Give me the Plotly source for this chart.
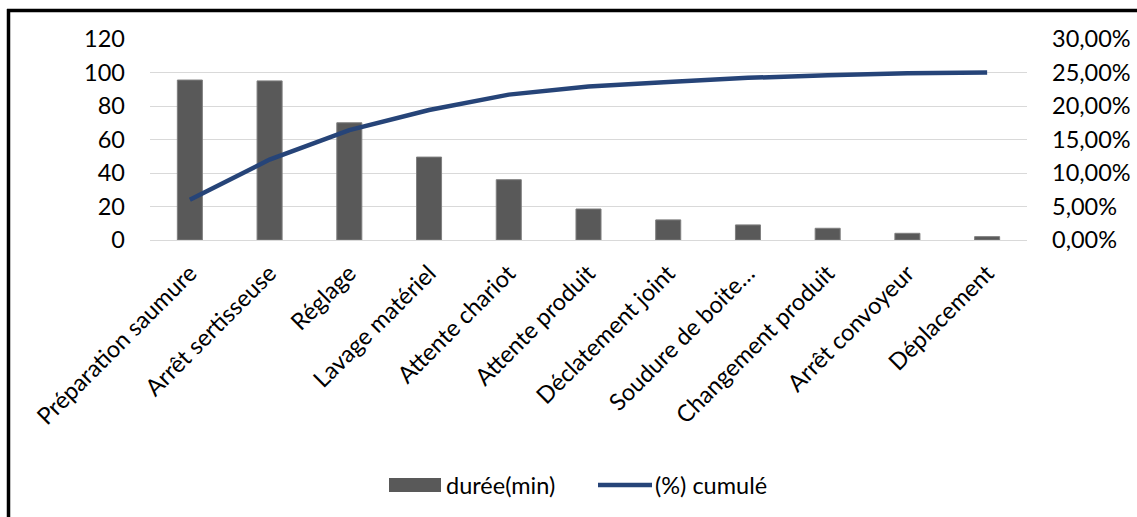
import plotly.graph_objects as go

# Pareto data: downtime per cause and cumulative share
categories = [
    "Préparation saumure", "Arrêt sertisseuse", "Réglage", "Lavage matériel",
    "Attente chariot", "Attente produit", "Déclatement joint", "Soudure de boite…",
    "Changement produit", "Arrêt convoyeur", "Déplacement",
]
duree_min = [95.5, 95, 70, 49.5, 36, 18.5, 12, 9, 7, 4, 2]
cumule_pct = [0.060, 0.120, 0.164, 0.194, 0.217, 0.229, 0.236, 0.242, 0.246, 0.249, 0.250]

left_ticks = [0, 20, 40, 60, 80, 100, 120]
right_ticks = [0, 0.05, 0.10, 0.15, 0.20, 0.25, 0.30]

FONT = "Lato"
FS = 23.5
BAR_COLOR = "#595959"
LINE_COLOR = "#264478"
GRID = "#d9d9d9"

W, H = 1137, 517
ML, MR, MT, MB = 150, 110, 39, 277
PW, PH = W - ML - MR, H - MT - MB


def px_to_paper_x(px):
    return (px - ML) / PW


def px_to_paper_y(py):
    return (H - MB - py) / PH


fig = go.Figure()
fig.add_trace(go.Bar(
    x=categories, y=duree_min, name="durée(min)",
    marker=dict(color=BAR_COLOR, line=dict(color="#7f7f7f", width=1)),
    showlegend=False, yaxis="y",
))
fig.add_trace(go.Scatter(
    x=categories, y=cumule_pct, name="(%) cumulé", mode="lines",
    line=dict(color=LINE_COLOR, width=4.5),
    showlegend=False, yaxis="y2",
))

fig.update_layout(
    width=W, height=H,
    margin=dict(l=ML, r=MR, t=MT, b=MB, autoexpand=False),
    paper_bgcolor="white", plot_bgcolor="white",
    font=dict(family=FONT, size=FS, color="#000000"),
    separators=", ",
    bargap=0.686,
    xaxis=dict(
        type="category", tickangle=-45, showgrid=False, automargin=False,
        showline=False, ticks="", ticklabelstandoff=14, tickfont=dict(size=FS),
    ),
    yaxis=dict(
        range=[0, 120], tickvals=left_ticks, showgrid=True, gridcolor=GRID,
        gridwidth=1.3, zeroline=True, zerolinecolor=GRID, zerolinewidth=1.3,
        showline=False, ticks="", ticklabelstandoff=24, tickfont=dict(size=FS),
        automargin=False,
    ),
    yaxis2=dict(
        range=[0, 0.30], tickvals=right_ticks, tickformat=".2%",
        overlaying="y", side="right", showgrid=False, zeroline=False,
        showline=False, ticks="", ticklabelstandoff=24, tickfont=dict(size=FS),
        automargin=False,
    ),
)

# Frame lines (left and top edges)
fig.add_shape(type="line", xref="paper", yref="paper",
              x0=px_to_paper_x(8.5), x1=px_to_paper_x(8.5),
              y0=px_to_paper_y(9), y1=px_to_paper_y(H + 2),
              line=dict(color="black", width=3.5))
fig.add_shape(type="line", xref="paper", yref="paper",
              x0=px_to_paper_x(7), x1=px_to_paper_x(W + 2),
              y0=px_to_paper_y(10.5), y1=px_to_paper_y(10.5),
              line=dict(color="black", width=3.5))

# Legend drawn below the plot
leg_y = px_to_paper_y(485)
fig.add_shape(type="rect", xref="paper", yref="paper",
              x0=px_to_paper_x(389), x1=px_to_paper_x(441),
              y0=px_to_paper_y(492), y1=px_to_paper_y(478),
              fillcolor=BAR_COLOR, line=dict(width=0))
fig.add_annotation(xref="paper", yref="paper", x=px_to_paper_x(444), y=leg_y,
                   text="durée(min)", showarrow=False, xanchor="left",
                   yanchor="middle", font=dict(size=FS, family=FONT))
fig.add_shape(type="line", xref="paper", yref="paper",
              x0=px_to_paper_x(598), x1=px_to_paper_x(652),
              y0=leg_y, y1=leg_y,
              line=dict(color=LINE_COLOR, width=4.5))
fig.add_annotation(xref="paper", yref="paper", x=px_to_paper_x(653), y=leg_y,
                   text="(%) cumulé", showarrow=False, xanchor="left",
                   yanchor="middle", font=dict(size=FS, family=FONT))

fig.write_html("out.html")
